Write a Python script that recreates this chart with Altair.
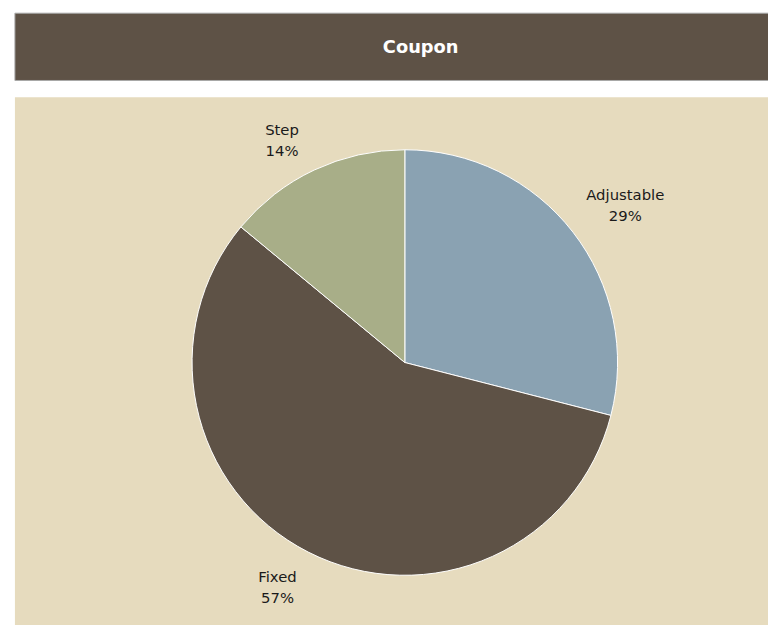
import altair as alt
import pandas as pd

categories = ["Adjustable", "Fixed", "Step"]
shares = [29, 57, 14]
colors = ["#8aa2b2", "#5e5246", "#a8ae88"]
title_text = "Coupon"

df = pd.DataFrame({
    "category": categories,
    "share": shares,
    "order": list(range(len(categories))),
})
df["label"] = [f"{c}\n{s}%" for c, s in zip(categories, shares)]

W, H = 768, 617
CX, CY = 401, 355
R = 215

frame = pd.DataFrame({"k": [0]})

header = alt.Chart(frame).mark_rect(
    color="#5e5246", stroke="#a8a8a8", strokeWidth=1
).encode(
    x=alt.value(7), x2=alt.value(820), y=alt.value(2), y2=alt.value(70)
)

panel = alt.Chart(frame).mark_rect(color="#e6dbbe").encode(
    x=alt.value(7), x2=alt.value(820), y=alt.value(87), y2=alt.value(640)
)

title = alt.Chart(frame).mark_text(
    text=title_text, font="Verdana, DejaVu Sans", fontWeight="bold",
    fontSize=18, color="white", align="center", baseline="middle"
).encode(x=alt.value(417), y=alt.value(37))

color_scale = alt.Scale(domain=categories, range=colors)

base = alt.Chart(df)

pie = base.mark_arc(stroke="white", strokeWidth=1).encode(
    theta=alt.Theta("share:Q", stack=True),
    order=alt.Order("order:Q"),
    color=alt.Color("category:N", scale=color_scale, legend=None),
    x=alt.value(CX), y=alt.value(CY),
    radius=alt.value(R),
)

label_offsets = {"Adjustable": (11, -5), "Fixed": (-7, -22), "Step": (-10, 8)}

label_layers = []
for cat in categories:
    dx, dy = label_offsets[cat]
    label_layers.append(
        base.mark_text(
            font="Verdana, DejaVu Sans", fontSize=15, color="#1a1a1a",
            lineBreak="\n", align="center", baseline="middle", lineHeight=21,
            dx=dx, dy=dy,
        ).encode(
            theta=alt.Theta("share:Q", stack=True),
            order=alt.Order("order:Q"),
            text="label:N",
            opacity=alt.condition(
                alt.datum.category == cat, alt.value(1), alt.value(0)
            ),
            x=alt.value(CX), y=alt.value(CY),
            radius=alt.value(268),
        )
    )

chart = alt.layer(panel, header, title, pie, *label_layers).properties(
    width=W, height=H, padding=0, autosize=alt.AutoSizeParams(type="none")
).configure_view(stroke=None)

chart.save("out.html", embed_options={"renderer": "svg", "actions": False})
